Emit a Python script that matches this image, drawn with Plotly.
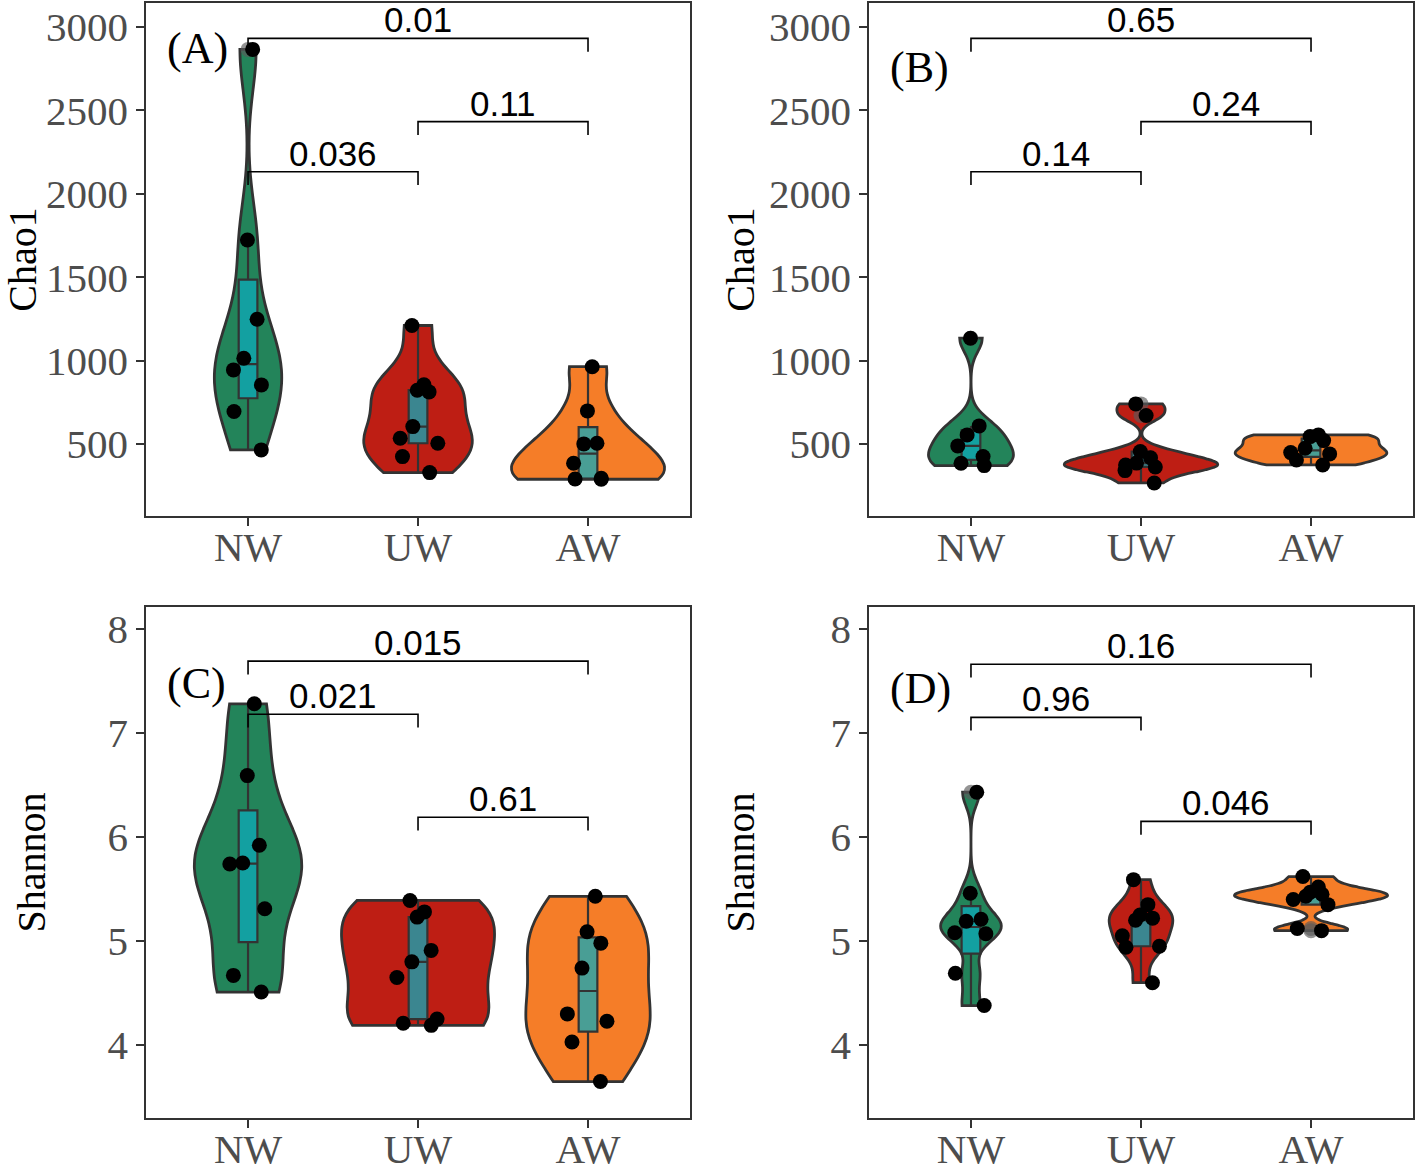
import numpy as np
import plotly.graph_objects as go

groups = ["NW", "UW", "AW"]
colors = ["#23845A", "#BE1E14", "#F57D28"]

# Chao1 (A)
chao1_A_NW = [2866, 1723, 1248, 1014, 944, 854, 694, 464]
chao1_A_UW = [1210, 855, 822, 812, 604, 534, 504, 424, 328]
chao1_A_AW = [963, 698, 504, 500, 384, 294, 290, 288]
# Chao1 (B)
chao1_B_NW = [1134, 608, 554, 488, 424, 384, 370]
chao1_B_UW = [740, 670, 454, 417, 385, 374, 362, 340, 266]
chao1_B_AW = [554, 544, 520, 474, 448, 440, 404, 374]
# Shannon (C)
shannon_C_NW = [7.28, 6.59, 5.92, 5.75, 5.74, 5.31, 4.67, 4.51]
shannon_C_UW = [5.39, 5.28, 5.23, 4.91, 4.80, 4.65, 4.25, 4.21, 4.19]
shannon_C_AW = [5.43, 5.09, 4.98, 4.74, 4.30, 4.23, 4.03, 3.65]
# Shannon (D)
shannon_D_NW = [6.43, 5.46, 5.21, 5.19, 5.08, 5.07, 4.69, 4.38]
shannon_D_UW = [5.59, 5.35, 5.25, 5.22, 5.20, 5.05, 4.95, 4.94, 4.60]
shannon_D_AW = [5.62, 5.52, 5.47, 5.45, 5.43, 5.40, 5.35, 5.12, 5.10]

# p-value brackets: (group1, group2, bracket height, label)
sig_A = [("NW", "AW", 2932, "0.01"), ("UW", "AW", 2433, "0.11"), ("NW", "UW", 2132, "0.036")]
sig_B = [("NW", "AW", 2932, "0.65"), ("UW", "AW", 2433, "0.24"), ("NW", "UW", 2132, "0.14")]
sig_C = [("NW", "AW", 7.69, "0.015"), ("NW", "UW", 7.18, "0.021"), ("UW", "AW", 6.19, "0.61")]
sig_D = [("NW", "AW", 7.66, "0.16"), ("NW", "UW", 7.15, "0.96"), ("UW", "AW", 6.15, "0.046")]

panels = [
    dict(tag="(A)", data=[chao1_A_NW, chao1_A_UW, chao1_A_AW], sig=sig_A, ytitle="Chao1", standoff=2,
         yrange=[68, 3144], dtick=500, tick0=500, dom_x=[0.103, 0.4866], dom_y=[0.5575, 0.9974], lab_y=0.912),
    dict(tag="(B)", data=[chao1_B_NW, chao1_B_UW, chao1_B_AW], sig=sig_B, ytitle="Chao1", standoff=2,
         yrange=[68, 3144], dtick=500, tick0=500, dom_x=[0.6128, 0.9965], dom_y=[0.5575, 0.9974], lab_y=0.875),
    dict(tag="(C)", data=[shannon_C_NW, shannon_C_UW, shannon_C_AW], sig=sig_C, ytitle="Shannon", standoff=50,
         yrange=[3.30, 8.21], dtick=1, tick0=4, dom_x=[0.103, 0.4866], dom_y=[0.0412, 0.4794], lab_y=0.851),
    dict(tag="(D)", data=[shannon_D_NW, shannon_D_UW, shannon_D_AW], sig=sig_D, ytitle="Shannon", standoff=63,
         yrange=[3.30, 8.21], dtick=1, tick0=4, dom_x=[0.6128, 0.9965], dom_y=[0.0412, 0.4794], lab_y=0.841),
]


# ggplot-like violin: nrd0 bandwidth, trimmed, area-scaled widths
def bw_nrd0(v):
    v = np.asarray(v, float)
    sd = v.std(ddof=1)
    q75, q25 = np.percentile(v, [75, 25])
    lo = min(sd, (q75 - q25) / 1.34)
    if lo <= 0:
        lo = sd
    return 0.9 * lo * len(v) ** -0.2


def peak_density(v, bw):
    v = np.asarray(v, float)
    grid = np.linspace(v.min(), v.max(), 512)
    d = np.exp(-0.5 * ((grid[:, None] - v[None, :]) / bw) ** 2).sum(1)
    return (d / (len(v) * bw * np.sqrt(2 * np.pi))).max()


fig = go.Figure()
annos = []
box_fill = "rgba(15,170,185,0.75)"
edge = "#333333"

for i, p in enumerate(panels):
    sfx = "" if i == 0 else str(i + 1)
    xa, ya = "x" + sfx, "y" + sfx
    bws = [bw_nrd0(v) for v in p["data"]]
    peaks = [peak_density(v, b) for v, b in zip(p["data"], bws)]
    widths = [0.9 * pk / max(peaks) for pk in peaks]

    for g, vals, col, bw, w in zip(groups, p["data"], colors, bws, widths):
        fig.add_trace(go.Violin(
            x=[g] * len(vals), y=vals, xaxis=xa, yaxis=ya, name=g, scalegroup=g + sfx,
            width=w, scalemode="width", spanmode="hard", bandwidth=bw,
            fillcolor=col, line=dict(color=edge, width=2.8), opacity=1,
            points=False, box_visible=False, meanline_visible=False,
            showlegend=False, hoverinfo="skip"))
    for g, vals in zip(groups, p["data"]):
        fig.add_trace(go.Box(
            x=[g] * len(vals), y=vals, xaxis=xa, yaxis=ya, name=g,
            width=0.11, fillcolor=box_fill, line=dict(color=edge, width=2.2),
            whiskerwidth=0, quartilemethod="inclusive",
            boxpoints="outliers", pointpos=0, jitter=0,
            marker=dict(color="rgba(90,90,90,0.65)", size=15, line=dict(width=0)),
            showlegend=False, hoverinfo="skip"))
    for g, vals in zip(groups, p["data"]):
        fig.add_trace(go.Box(
            x=[g] * len(vals), y=vals, xaxis=xa, yaxis=ya, name=g,
            width=0.3, fillcolor="rgba(0,0,0,0)", line=dict(color="rgba(0,0,0,0)", width=0),
            boxpoints="all", pointpos=0, jitter=1,
            marker=dict(color="black", size=15, line=dict(width=0)),
            showlegend=False, hoverinfo="skip"))

    tip = 0.026 * (p["yrange"][1] - p["yrange"][0])
    for g1, g2, yb, lab in p["sig"]:
        fig.add_trace(go.Scatter(
            x=[g1, g1, g2, g2], y=[yb - tip, yb, yb, yb - tip], xaxis=xa, yaxis=ya,
            mode="lines", line=dict(color="black", width=1.6),
            showlegend=False, hoverinfo="skip"))
        annos.append(dict(
            x=(groups.index(g1) + groups.index(g2)) / 2, y=yb, xref=xa, yref=ya,
            text=lab, showarrow=False, yanchor="bottom", yshift=-3,
            font=dict(family="Liberation Sans, Arial", size=35, color="black")))

    annos.append(dict(
        x=0.035, y=p["lab_y"], xref=xa + " domain", yref=ya + " domain",
        text=p["tag"], showarrow=False, xanchor="left", yanchor="middle",
        font=dict(family="Liberation Serif, Times New Roman", size=44, color="black")))

    axis_common = dict(showline=True, mirror=True, linecolor=edge, linewidth=1.6,
                       ticks="outside", ticklen=8, tickwidth=2, tickcolor=edge,
                       showgrid=False, zeroline=False, automargin=False,
                       tickfont=dict(family="Liberation Serif, Times New Roman", size=41, color="#4D4D4D"))
    fig.layout["xaxis" + sfx] = dict(
        axis_common, domain=p["dom_x"], anchor=ya, type="category",
        categoryorder="array", categoryarray=groups, range=[-0.6, 2.6],
        ticklabelstandoff=-14)
    fig.layout["yaxis" + sfx] = dict(
        axis_common, domain=p["dom_y"], anchor=xa, range=p["yrange"],
        tick0=p["tick0"], dtick=p["dtick"],
        title=dict(text=p["ytitle"], standoff=p["standoff"],
                   font=dict(family="Liberation Serif, Times New Roman", size=40, color="black")))

fig.update_layout(
    width=1418, height=1166,
    margin=dict(l=0, r=0, t=0, b=0),
    paper_bgcolor="white", plot_bgcolor="white",
    violinmode="overlay", boxmode="overlay",
    annotations=annos,
)

fig.write_html("out.html", config={"displayModeBar": False},
               post_script="document.body.style.margin='0';")
